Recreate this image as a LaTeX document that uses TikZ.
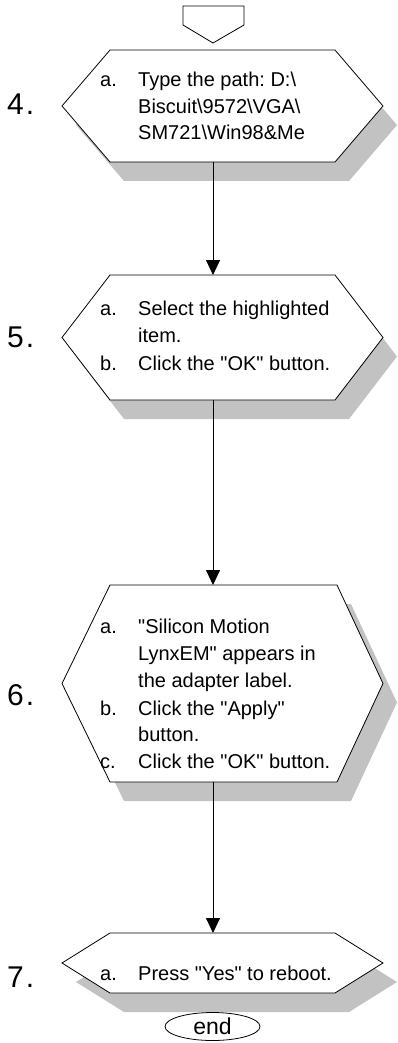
\documentclass[tikz,border=0pt]{standalone}
\usepackage{fontspec}
\setmainfont{Liberation Sans}[Ligatures=TeXOff]
\frenchspacing
\usetikzlibrary{arrows.meta,shapes.geometric}
\tikzset{
  shadowfill/.style={fill=black!24,draw=none},
  hexline/.style={draw=black,line width=0.8pt,fill=white},
  txt/.style={anchor=base west,inner sep=0pt,font=\fontsize{20}{26}\selectfont},
  num/.style={anchor=base west,inner sep=0pt,font=\fontsize{30}{31}\selectfont},
  arr/.style={draw=black,line width=0.8pt,-{Triangle[length=15pt,width=14pt]}},
}
\newcommand\hexbox[4]{% name, ytop, ybot, xtopright
  \pgfmathsetmacro\ym{(#2+#3)/2}
  \fill[shadowfill] (76,\ym+19) -- (124,#2+19) -- (#4+14,#2+19) -- (397,\ym+19) -- (#4+14,#3+19) -- (124,#3+19) -- cycle;
  \draw[hexline] (62,\ym) -- (110,#2) -- (#4,#2) -- (383,\ym) -- (#4,#3) -- (110,#3) -- cycle;
  \coordinate (#1t) at (213,#2);
  \coordinate (#1b) at (213,#3);
}
\begin{document}
\begin{tikzpicture}[x=1pt,y=-1pt]
\useasboundingbox (0,0) rectangle (397,1043);
% off-page connector
\draw[hexline] (183,6) -- (244,6) -- (244,25) -- (213,43) -- (183,25) -- cycle;
% hexagons
\hexbox{h4}{50}{162}{335}
\hexbox{h5}{275}{400}{335}
\hexbox{h6}{585}{782}{337}
\hexbox{h7}{933}{993}{335}
% connectors
\draw[arr] (h4b) -- (h5t);
\draw[arr] (h5b) -- (h6t);
\draw[arr] (h6b) -- (h7t);
% step numbers
\node[num] (n4) at (7,115) {4\kern2pt.};
\node[num] (n5) at (7,347) {5\kern2pt.};
\node[num] (n6) at (7,705) {6\kern2pt.};
\node[num] (n7) at (7,987) {7\kern2pt.};
% step 4
\node[txt] (a4) at (100,86.7) {a.};
\node[txt] (t4a) at (138,86.7) {Type the path: D:\textbackslash};
\node[txt] (t4b) at (138,113.3) {Biscuit\textbackslash 9572\textbackslash VGA\textbackslash};
\node[txt] (t4c) at (138,140) {SM721\textbackslash Win98\&Me};
% step 5
\node[txt] (a5) at (100,315) {a.};
\node[txt] (t5a) at (138,315) {Select the highlighted};
\node[txt] (t5b) at (138,342) {item.};
\node[txt] (b5) at (100,370) {b.};
\node[txt] (t5c) at (138,370) {Click the "OK" button.};
% step 6
\node[txt] (a6) at (100,633) {a.};
\node[txt] (t6a) at (138,633) {"Silicon Motion};
\node[txt] (t6b) at (138,660) {LynxEM" appears in};
\node[txt] (t6c) at (138,687) {the adapter label.};
\node[txt] (b6) at (100,715) {b.};
\node[txt] (t6d) at (138,715) {Click the "Apply"};
\node[txt] (t6e) at (138,741) {button.};
\node[txt] (c6) at (100,768) {c.};
\node[txt] (t6f) at (138,768) {Click the "OK" button.};
% step 7
\node[txt] (a7) at (100,980) {a.};
\node[txt] (t7a) at (138,980) {Press "Yes" to reboot.};
% end
\node[draw=black,line width=0.8pt,ellipse,minimum width=95pt,minimum height=28pt,inner sep=0pt,font=\fontsize{23}{24}\selectfont] (end) at (212.5,1026.5) {end};
\end{tikzpicture}
\end{document}
